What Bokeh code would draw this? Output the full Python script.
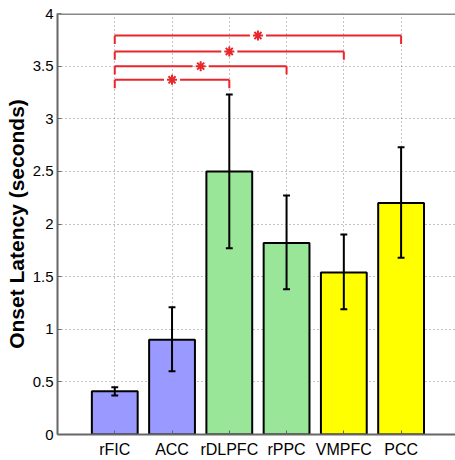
from bokeh.plotting import figure
from bokeh.models import ColumnDataSource, Range1d, FixedTicker, Span
from bokeh.embed import file_html
from bokeh.resources import INLINE

categories = ["rFIC", "ACC", "rDLPFC", "rPPC", "VMPFC", "PCC"]
means = [0.41, 0.90, 2.50, 1.82, 1.54, 2.20]
err_low = [0.37, 0.60, 1.77, 1.38, 1.19, 1.68]
err_high = [0.45, 1.21, 3.23, 2.27, 1.90, 2.73]
bar_colors = ["#9999ff", "#9999ff", "#99e699", "#99e699", "#ffff00", "#ffff00"]

bracket_from = [0, 0, 0, 0]
bracket_to = [2, 3, 4, 5]
bracket_y = [3.37, 3.50, 3.64, 3.79]

y_ticks = [0, 0.5, 1, 1.5, 2, 2.5, 3, 3.5, 4]
y_tick_labels = ["0", "0.5", "1", "1.5", "2", "2.5", "3", "3.5", "4"]

xs = [i + 1 for i in range(len(categories))]

p = figure(width=455, height=460, output_backend="svg", toolbar_location=None,
           x_range=Range1d(0, 6.95), y_range=Range1d(0, 4),
           min_border_left=57, min_border_right=0, min_border_top=13, min_border_bottom=26)

src = ColumnDataSource(dict(x=xs, top=means, lo=err_low, hi=err_high, color=bar_colors))
p.vbar(x="x", top="top", width=0.8, bottom=0, source=src, fill_color="color",
       line_color="black", line_width=2)
p.segment(x0="x", x1="x", y0="lo", y1="hi", source=src, line_color="black", line_width=2)
cap = 0.06
p.segment(x0=[x - cap for x in xs], x1=[x + cap for x in xs], y0=err_low, y1=err_low,
          line_color="black", line_width=2)
p.segment(x0=[x - cap for x in xs], x1=[x + cap for x in xs], y0=err_high, y1=err_high,
          line_color="black", line_width=2)

# significance brackets
red = "#e8262b"
gap = 0.14
drop = 0.08
mx = []
seg_x0, seg_x1, seg_y = [], [], []
for f, t, y in zip(bracket_from, bracket_to, bracket_y):
    a, b = xs[f], xs[t]
    m = (a + b) / 2
    mx.append(m)
    seg_x0 += [a, m + gap]
    seg_x1 += [m - gap, b]
    seg_y += [y, y]
p.segment(x0=seg_x0, x1=seg_x1, y0=seg_y, y1=seg_y, line_color=red, line_width=2)
p.segment(x0=[xs[f] for f in bracket_from], x1=[xs[f] for f in bracket_from],
          y0=bracket_y, y1=[y - drop for y in bracket_y], line_color=red, line_width=2)
p.segment(x0=[xs[t] for t in bracket_to], x1=[xs[t] for t in bracket_to],
          y0=bracket_y, y1=[y - drop for y in bracket_y], line_color=red, line_width=2)
p.scatter(x=mx, y=bracket_y, marker="asterisk", size=10, line_color=red, line_width=2)

# axes
p.xaxis.ticker = FixedTicker(ticks=xs)
p.xaxis.major_label_overrides = {x: c for x, c in zip(xs, categories)}
p.yaxis.ticker = FixedTicker(ticks=y_ticks)
p.yaxis.major_label_overrides = {t: l for t, l in zip(y_ticks, y_tick_labels)}
for ax in (p.xaxis, p.yaxis):
    ax.major_label_text_font = "Liberation Sans"
    ax.major_label_text_color = "#000000"
    ax.axis_line_color = "#666666"
    ax.axis_line_width = 2
    ax.major_tick_out = 0
    ax.major_tick_in = 4
    ax.minor_tick_line_color = None
    ax.major_tick_line_color = "#666666"
p.xaxis.major_label_text_font_size = "16px"
p.yaxis.major_label_text_font_size = "15px"
p.xaxis.major_label_standoff = 6
p.yaxis.major_label_standoff = 4
p.yaxis.axis_label = "Onset Latency (seconds)"
p.yaxis.axis_label_text_font = "Liberation Sans"
p.yaxis.axis_label_text_font_style = "bold"
p.yaxis.axis_label_text_font_size = "21px"
p.yaxis.axis_label_text_color = "#000000"
p.yaxis.axis_label_standoff = 2

# top frame line (no right border, as in the reference)
p.add_layout(Span(location=4, dimension="width", line_color="#888888", line_width=3))

p.xgrid.ticker = FixedTicker(ticks=xs)
p.ygrid.ticker = FixedTicker(ticks=y_ticks)
for g in (p.xgrid, p.ygrid):
    g.grid_line_color = "#888888"
    g.grid_line_dash = "1 3"
    g.grid_line_width = 1

p.outline_line_color = None
p.background_fill_color = "white"
p.border_fill_color = "white"

open("out.html", "w").write(file_html(p, INLINE))
